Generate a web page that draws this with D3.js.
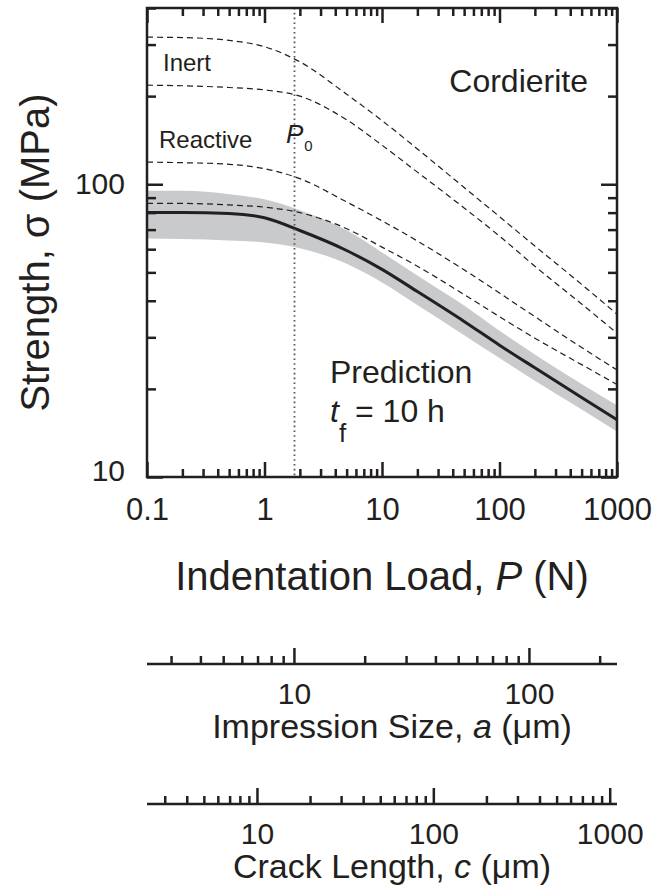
<!DOCTYPE html>
<html>
<head>
<meta charset="utf-8">
<script src="https://cdn.jsdelivr.net/npm/d3@7"></script>
<style>
  body { margin: 0; background: #fff; }
  svg { display: block; font-family: 'Liberation Sans', Arial, Helvetica, sans-serif; }
</style>
</head>
<body>
<div id="chart"></div>
<script>
const loadP = [0.1, 0.2, 0.5, 1, 2, 5, 10, 20, 50, 100, 200, 500, 1000];

// strength (MPa)
const inertUpper = [318, 317, 310, 295, 262, 203, 165, 132, 97.5, 77.5, 61.5, 45.5, 36];
const inertLower = [218, 217, 214, 210, 200, 166, 136, 110, 83, 66.5, 52.5, 39, 31];
const reactiveUpper = [119, 118.5, 117, 113, 104.5, 87, 75, 64, 51, 42.5, 35.3, 27.7, 23.2];
const reactiveLower = [86, 86, 85, 83.5, 80, 70.5, 61, 52.5, 42, 35.3, 29.8, 24.2, 20.7];
const prediction = [80, 80, 79.5, 76.8, 69.5, 59.4, 51.2, 43, 34, 28.2, 23.6, 18.7, 15.7];
const bandUpper = [95, 95, 92.5, 88.8, 81.5, 69.6, 58.5, 48.8, 38.5, 31.6, 26.2, 20.8, 17.6];
const bandLower = [65.3, 65, 64.3, 63.3, 60.5, 53.5, 46.2, 38.7, 30.5, 25.5, 21.3, 17, 14.3];

const P0 = 1.8;

const xDomain = [0.1, 1000];
const yDomain = [10, 400];
const aDomain = [2.37, 237];
const cDomain = [2.38, 1100];

const xMajor = [0.1, 1, 10, 100, 1000];
const yMajor = [10, 100];
const aMajor = [10, 100];
const cMajor = [10, 100, 1000];

const width = 667;
const height = 887;
const plot = { left: 147, right: 617, top: 8, bottom: 477 };

const svg = d3.select('#chart')
  .append('svg')
  .attr('width', width)
  .attr('height', height);

const x = d3.scaleLog().domain(xDomain).range([plot.left, plot.right]);
const y = d3.scaleLog().domain(yDomain).range([plot.bottom, plot.top]);
const a = d3.scaleLog().domain(aDomain).range([plot.left, plot.right]);
const c = d3.scaleLog().domain(cDomain).range([plot.left, plot.right]);

const isMajor = (v) => Math.abs(Math.log10(v) - Math.round(Math.log10(v))) < 1e-6;
const minorOf = (scale) => scale.ticks().filter((v) => !isMajor(v));

function styleAxis(g, width) {
  g.selectAll('.tick line').attr('stroke', '#231f20').attr('stroke-width', width);
  g.selectAll('.domain').remove();
  g.selectAll('text')
    .attr('fill', '#231f20')
    .attr('font-family', "'Liberation Sans', Arial, Helvetica, sans-serif");
}

// band and curves
const band = d3.area()
  .x((d, i) => x(loadP[i]))
  .y0((d, i) => y(bandLower[i]))
  .y1((d, i) => y(bandUpper[i]))
  .curve(d3.curveMonotoneX);

svg.append('path')
  .datum(loadP)
  .attr('d', band)
  .attr('fill', '#c9cacc');

const line = d3.line()
  .x((d, i) => x(loadP[i]))
  .y((d) => y(d))
  .curve(d3.curveMonotoneX);

[inertUpper, inertLower, reactiveUpper, reactiveLower].forEach((s) => {
  svg.append('path')
    .datum(s)
    .attr('d', line)
    .attr('fill', 'none')
    .attr('stroke', '#231f20')
    .attr('stroke-width', 1.2)
    .attr('stroke-dasharray', '6,4');
});

svg.append('path')
  .datum(prediction)
  .attr('d', line)
  .attr('fill', 'none')
  .attr('stroke', '#231f20')
  .attr('stroke-width', 3);

// P0 marker
svg.append('line')
  .attr('x1', x(P0)).attr('x2', x(P0))
  .attr('y1', plot.top).attr('y2', plot.bottom)
  .attr('stroke', '#555')
  .attr('stroke-width', 1.8)
  .attr('stroke-dasharray', '1.6,3.2');

// main axes, ticks pointing inward
const axW = 2.5;
const bottomMajor = svg.append('g').attr('transform', `translate(0,${plot.bottom})`)
  .call(d3.axisBottom(x).tickValues(xMajor).tickSizeInner(-15).tickSizeOuter(0).tickPadding(21)
    .tickFormat((d) => (d < 1 ? '0.1' : d3.format('d')(d))));
bottomMajor.attr('font-size', 31);
styleAxis(bottomMajor, axW);
styleAxis(svg.append('g').attr('transform', `translate(0,${plot.bottom})`)
  .call(d3.axisBottom(x).tickValues(minorOf(x)).tickSizeInner(-8).tickSizeOuter(0).tickFormat('')), axW);

styleAxis(svg.append('g').attr('transform', `translate(0,${plot.top})`)
  .call(d3.axisTop(x).tickValues(xMajor).tickSizeInner(-15).tickSizeOuter(0).tickFormat('')), axW);
styleAxis(svg.append('g').attr('transform', `translate(0,${plot.top})`)
  .call(d3.axisTop(x).tickValues(minorOf(x)).tickSizeInner(-8).tickSizeOuter(0).tickFormat('')), axW);

const leftMajor = svg.append('g').attr('transform', `translate(${plot.left},0)`)
  .call(d3.axisLeft(y).tickValues(yMajor).tickSizeInner(-16).tickSizeOuter(0).tickPadding(22)
    .tickFormat(d3.format('d')));
leftMajor.attr('font-size', 30);
styleAxis(leftMajor, axW);
leftMajor.selectAll('text').filter((d) => d === 10).attr('dy', '0.1em');
styleAxis(svg.append('g').attr('transform', `translate(${plot.left},0)`)
  .call(d3.axisLeft(y).tickValues(minorOf(y)).tickSizeInner(-9).tickSizeOuter(0).tickFormat('')), axW);

styleAxis(svg.append('g').attr('transform', `translate(${plot.right},0)`)
  .call(d3.axisRight(y).tickValues(yMajor).tickSizeInner(-16).tickSizeOuter(0).tickFormat('')), axW);
styleAxis(svg.append('g').attr('transform', `translate(${plot.right},0)`)
  .call(d3.axisRight(y).tickValues(minorOf(y)).tickSizeInner(-9).tickSizeOuter(0).tickFormat('')), axW);

svg.append('rect')
  .attr('x', plot.left).attr('y', plot.top)
  .attr('width', plot.right - plot.left).attr('height', plot.bottom - plot.top)
  .attr('fill', 'none')
  .attr('stroke', '#231f20')
  .attr('stroke-width', axW);

// labels inside the plot
const ink = '#231f20';
svg.append('text').attr('x', 588).attr('y', 92).attr('text-anchor', 'end')
  .attr('font-size', 32).attr('fill', ink).text('Cordierite');
svg.append('text').attr('x', 163).attr('y', 71)
  .attr('font-size', 24).attr('fill', ink).text('Inert');
svg.append('text').attr('x', 159).attr('y', 148)
  .attr('font-size', 24).attr('fill', ink).text('Reactive');

const p0 = svg.append('text').attr('x', 286).attr('y', 143).attr('fill', ink).attr('font-size', 26);
p0.append('tspan').attr('font-style', 'italic').text('P');
p0.append('tspan').attr('font-size', 15).attr('dx', 1).attr('dy', 8).text('0');

svg.append('text').attr('x', 330).attr('y', 383)
  .attr('font-size', 32).attr('fill', ink).text('Prediction');
const tf = svg.append('text').attr('x', 330).attr('y', 422).attr('fill', ink).attr('font-size', 32);
tf.append('tspan').attr('font-style', 'italic').text('t');
tf.append('tspan').attr('font-size', 26).attr('dy', 20).text('f');
tf.append('tspan').attr('dy', -20).text(' = 10 h');

// axis titles
const yTitle = svg.append('text')
  .attr('transform', `translate(49,${(plot.top + plot.bottom) / 2 + 10}) rotate(-90)`)
  .attr('text-anchor', 'middle').attr('font-size', 40).attr('fill', ink);
yTitle.append('tspan').text('Strength, σ (MPa)');

const xTitle = svg.append('text')
  .attr('x', (plot.left + plot.right) / 2).attr('y', 590)
  .attr('text-anchor', 'middle').attr('font-size', 40).attr('fill', ink);
xTitle.append('tspan').text('Indentation Load, ');
xTitle.append('tspan').attr('font-style', 'italic').text('P');
xTitle.append('tspan').text(' (N)');

// secondary scales: impression size and crack length
function extraAxis(scale, majors, yPos, titleParts) {
  const gMaj = svg.append('g').attr('transform', `translate(0,${yPos})`)
    .call(d3.axisBottom(scale).tickValues(majors).tickSizeInner(-16).tickSizeOuter(0).tickPadding(19)
      .tickFormat(d3.format('d')));
  gMaj.attr('font-size', 30);
  styleAxis(gMaj, axW);
  styleAxis(svg.append('g').attr('transform', `translate(0,${yPos})`)
    .call(d3.axisBottom(scale).tickValues(minorOf(scale)).tickSizeInner(-8).tickSizeOuter(0).tickFormat('')), axW);
  svg.append('line')
    .attr('x1', scale.range()[0]).attr('x2', scale.range()[1])
    .attr('y1', yPos).attr('y2', yPos)
    .attr('stroke', ink).attr('stroke-width', axW);
  const t = svg.append('text')
    .attr('x', (plot.left + plot.right) / 2 + 10).attr('y', yPos + 74)
    .attr('text-anchor', 'middle').attr('font-size', 34).attr('fill', ink);
  t.append('tspan').text(titleParts[0]);
  t.append('tspan').attr('font-style', 'italic').text(titleParts[1]);
  t.append('tspan').text(titleParts[2]);
}

extraAxis(a, aMajor, 664, ['Impression Size, ', 'a', ' (μm)']);
extraAxis(c, cMajor, 804, ['Crack Length, ', 'c', ' (μm)']);
</script>
</body>
</html>
